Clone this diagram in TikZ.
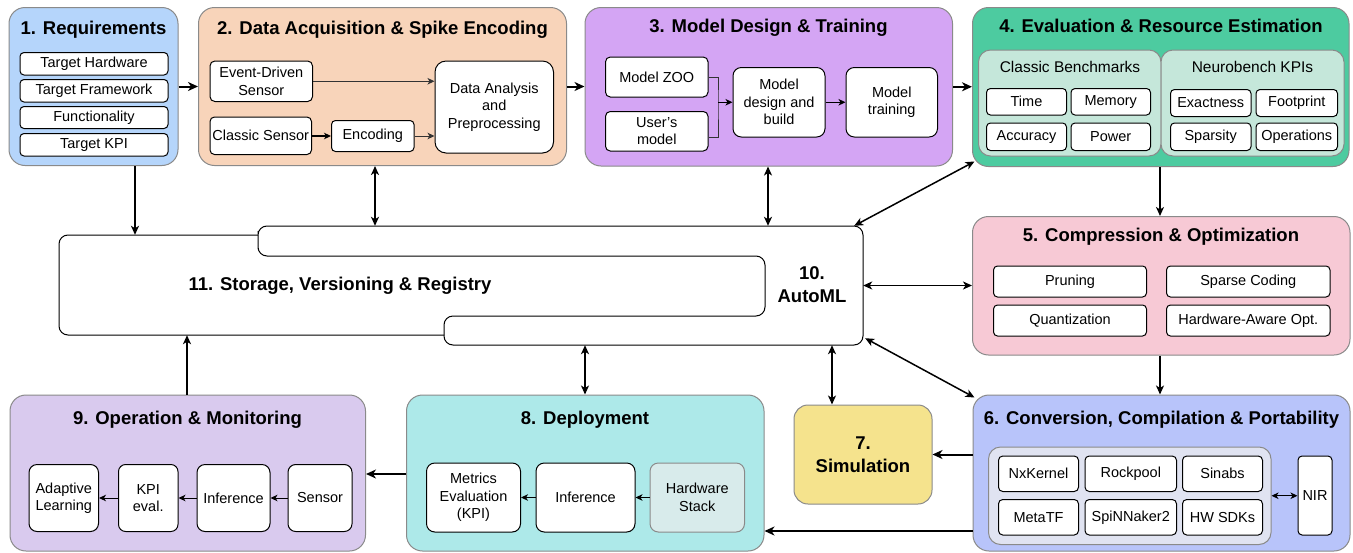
\documentclass[tikz,border=0pt]{standalone}
\usepackage{fontspec}
\setmainfont{Liberation Sans}
\usetikzlibrary{arrows.meta}

\definecolor{reqblue}{HTML}{B5D5FB}
\definecolor{daqpeach}{HTML}{F8D4BA}
\definecolor{mdlviolet}{HTML}{D4A5F4}
\definecolor{evalgreen}{HTML}{4DCBA0}
\definecolor{evalpale}{HTML}{C5E7DA}
\definecolor{cmppink}{HTML}{F7C9D5}
\definecolor{cnvblue}{HTML}{B8C4FA}
\definecolor{cnvgray}{HTML}{E0E3F1}
\definecolor{simyellow}{HTML}{F5E38D}
\definecolor{depteal}{HTML}{ADE9E9}
\definecolor{hwgray}{HTML}{D8EBEB}
\definecolor{opslilac}{HTML}{D9CAEE}
\definecolor{edgegray}{HTML}{8A8A8A}

\newcommand{\ttlfont}{\fontsize{18.5}{23}\selectfont\bfseries}
\newcommand{\itmfont}{\fontsize{14.5}{17.5}\selectfont}

% block from its corners (x1,y1) (x2,y2), in pixels
\newcommand{\blk}[7][]{%
  \pgfmathsetmacro{\blkw}{#5-#3}%
  \pgfmathsetmacro{\blkh}{#6-#4}%
  \pgfmathsetmacro{\blkr}{max(4,0.12*min(\blkw,\blkh))}%
  \node[itm,rounded corners=\blkr pt,minimum width=\blkw pt,minimum height=\blkh pt,#1]
    (#2) at ({(#3+#5)/2},{(#4+#6)/2}) {#7};}

\tikzset{
  itm/.style={draw=black,fill=white,line width=1pt,inner sep=0pt,align=center,font=\itmfont},
  grp/.style={draw=edgegray,line width=1pt,rounded corners=16pt},
  sub/.style={draw=edgegray,line width=1pt,rounded corners=12pt},
  ttl/.style={font=\ttlfont,inner sep=0pt,align=center},
  bttl/.style={ttl,anchor=base},
  lbl/.style={font=\fontsize{15.5}{18}\selectfont,inner sep=0pt},
  bigarr/.style={-{Stealth[length=10pt,width=9pt,inset=3pt]},line width=2pt},
  arr/.style={-{Stealth[length=9pt,width=8pt,inset=2.5pt]},line width=1.5pt},
  darr/.style={{Stealth[length=9pt,width=8pt,inset=2.5pt]}-{Stealth[length=9pt,width=8pt,inset=2.5pt]},line width=1.5pt},
  smarr/.style={-{Stealth[length=7pt,width=6.5pt,inset=2pt]},line width=1pt},
  dsmarr/.style={{Stealth[length=7pt,width=6.5pt,inset=2pt]}-{Stealth[length=7pt,width=6.5pt,inset=2pt]},line width=1.2pt}
}

\begin{document}
\begin{tikzpicture}[x=1pt,y=-1pt]
  \useasboundingbox[fill=white] (0,0) rectangle (1353,552);

  % 1. requirements
  \blk[grp,fill=reqblue]{req}{9}{7.5}{178}{165.5}{}
  \node[bttl] (reqttl) at (93.5,34.5) {1. Requirements};
  \blk{thw}{20}{52.5}{168}{75}{Target Hardware}
  \blk{tfw}{20}{79.5}{168}{102}{Target Framework}
  \blk{fun}{20}{106.5}{168}{128.5}{Functionality}
  \blk{tkpi}{20}{133.5}{168}{156}{Target KPI}

  % 2. data acquisition
  \blk[grp,fill=daqpeach]{daq}{198.5}{7.5}{566.5}{165.5}{}
  \node[bttl] (daqttl) at (382.5,34.5) {2. Data Acquisition \& Spike Encoding};
  \blk{evs}{210}{61}{312.5}{101.5}{Event-Driven\\Sensor}
  \blk{csn}{210}{117}{311.5}{154.5}{Classic Sensor}
  \blk{enc}{331.5}{120.5}{414}{151.5}{Encoding}
  \blk{dap}{435}{61}{553.5}{153}{Data Analysis\\and\\Preprocessing}
  \draw[smarr,black!80] (evs.east) -- (dap.west |- evs.east);
  \draw[smarr,line width=1.5pt] (csn.east |- enc.west) -- (enc.west);
  \draw[smarr,black!80] (enc.east) -- (dap.west |- enc.east);

  % 3. model design
  \blk[grp,fill=mdlviolet]{mdl}{585}{7.5}{952.5}{166}{}
  \node[bttl] (mdlttl) at (768.5,32.5) {3. Model Design \& Training};
  \blk{zoo}{605.5}{57}{708}{97}{Model ZOO}
  \blk{usr}{605.5}{111.5}{708}{151}{User\char"0027 s\\model}
  \blk{mdb}{733}{67.5}{825}{137}{Model\\design and\\build}
  \blk{mtr}{846}{67.5}{937.5}{137}{Model\\training}
  \coordinate (mrg) at (718,102.25);
  \draw[line width=1pt,black!80] (zoo.east) -| (mrg) |- ([yshift=-6.5pt]usr.east);
  \draw[smarr,line width=1.5pt] (mrg) -- (mdb.west |- mrg);
  \draw[smarr,line width=1.5pt] (mdb) -- (mtr);

  % 4. evaluation
  \blk[grp,fill=evalgreen]{eval}{972.5}{7.5}{1349}{166.5}{}
  \node[bttl] (evalttl) at (1161,32.5) {4. Evaluation \& Resource Estimation};
  \blk[sub,fill=evalpale]{cbm}{978.5}{50}{1161}{156}{}
  \blk[sub,fill=evalpale]{nbk}{1161}{50}{1344}{156}{}
  \node[lbl] (cbmlbl) at (1070,67) {Classic Benchmarks};
  \node[lbl] (nbklbl) at (1252.5,67) {Neurobench KPIs};
  \blk{tim}{986.5}{88.5}{1066.5}{115}{Time}
  \blk{mem}{1071}{88.5}{1150.5}{115}{Memory}
  \blk{acc}{986.5}{123}{1066.5}{150.5}{Accuracy}
  \blk{pow}{1071}{123}{1150.5}{150.5}{Power}
  \blk{exa}{1170.5}{89.5}{1251}{116.5}{Exactness}
  \blk{fpr}{1256}{89.5}{1337.5}{116.5}{Footprint}
  \blk{spa}{1170.5}{123}{1251}{150.5}{Sparsity}
  \blk{opr}{1256}{123}{1337.5}{150.5}{Operations}

  % 5. compression
  \blk[grp,fill=cmppink]{cmp}{972.5}{216.5}{1350}{355}{}
  \node[bttl] (cmpttl) at (1161,241.5) {5. Compression \& Optimization};
  \blk{prn}{993.5}{266}{1146.5}{297}{Pruning}
  \blk{spc}{1166.5}{266}{1330}{297}{Sparse Coding}
  \blk{qnt}{993.5}{305}{1146.5}{336}{Quantization}
  \blk{hwo}{1166.5}{305}{1330}{336}{Hardware-Aware Opt.}

  % 6. conversion
  \blk[grp,fill=cnvblue]{cnv}{973}{395}{1350}{551}{}
  \node[bttl] (cnvttl) at (1161.5,424.5) {6. Conversion, Compilation \& Portability};
  \blk[sub,fill=cnvgray]{fwk}{988.5}{447}{1271}{544.5}{}
  \blk{nxk}{998.5}{456}{1078.5}{491.5}{NxKernel}
  \blk{rkp}{1085}{456}{1176.5}{491.5}{Rockpool}
  \blk{snb}{1182.5}{456}{1262.5}{491.5}{Sinabs}
  \blk{mtf}{998.5}{499.5}{1078.5}{535}{MetaTF}
  \blk{spn}{1085}{499.5}{1176.5}{535}{SpiNNaker2}
  \blk{hws}{1182.5}{499.5}{1262.5}{535}{HW SDKs}
  \blk{nir}{1298}{456}{1332}{535}{NIR}
  \draw[dsmarr] (fwk.east) -- (nir.west |- fwk.east);

  % 7. simulation
  \blk[grp,fill=simyellow,font=\ttlfont,rounded corners=14pt]{sim}{794}{405}{932}{504}{7.\\Simulation}

  % 8. deployment
  \blk[grp,fill=depteal]{dep}{406.5}{395}{764}{551}{}
  \node[bttl] (depttl) at (585,424.5) {8. Deployment};
  \blk{met}{426.5}{463}{520.5}{532}{Metrics\\Evaluation\\(KPI)}
  \blk{dinf}{536}{463}{635}{532}{Inference}
  \blk[fill=hwgray,draw=edgegray]{hwst}{650}{463}{744.5}{532}{Hardware\\Stack}
  \draw[smarr] (hwst) -- (dinf);
  \draw[smarr] (dinf) -- (met);

  % 9. operation
  \blk[grp,fill=opslilac]{opm}{10}{395}{365.5}{551}{}
  \node[bttl] (opmttl) at (187.5,424.5) {9. Operation \& Monitoring};
  \blk{adl}{29}{464.5}{98.5}{531.5}{Adaptive\\Learning}
  \blk{kpe}{118.5}{464.5}{178}{531.5}{KPI\\eval.}
  \blk{oinf}{197}{464.5}{270}{531.5}{Inference}
  \blk{sns}{288}{464.5}{352}{531.5}{Sensor}
  \draw[smarr] (sns) -- (oinf);
  \draw[smarr] (oinf) -- (kpe);
  \draw[smarr] (kpe) -- (adl);

  % 10. automl and 11. storage
  \node[minimum width=706pt,minimum height=100pt,inner sep=0pt] (stor) at (412,285) {};
  \node[minimum width=605pt,minimum height=119pt,inner sep=0pt] (aml) at (560.5,285.5) {};
  \draw[line width=1pt,rounded corners=9pt] (258,240) -- (258,226) -- (863,226) -- (863,345)
    -- (444,345) -- (444,316) -- (765,316) -- (765,256) -- (258,256) -- cycle;
  \draw[line width=1pt,rounded corners=9pt] (258,235) -- (59,235) -- (59,335) -- (444,335);
  \node[bttl] (storlbl) at (340,290.5) {11. Storage, Versioning \& Registry};
  \node[ttl] (amllbl) at (812,284.5) {10.\\AutoML};

  % flow between stages
  \draw[bigarr] (req.east) -- (daq.west |- req.east);
  \draw[bigarr] (daq.east) -- (mdl.west |- daq.east);
  \draw[bigarr] (mdl.east) -- (eval.west |- mdl.east);
  \draw[arr] (135,0 |- req.south) -- (135,0 |- stor.north);
  \draw[darr] (375,0 |- daq.south) -- (375,0 |- aml.north);
  \draw[darr] (768,0 |- mdl.south) -- (768,0 |- aml.north);
  \draw[darr] ([xshift=-9pt]aml.north east) -- ([shift={(2.5,-5.5)}]eval.south west);
  \draw[arr] (1160,0 |- eval.south) -- (1160,0 |- cmp.north);
  \draw[darr] (aml.east) -- (cmp.west |- aml.east);
  \draw[arr] (1160,0 |- cmp.south) -- (1160,0 |- cnv.north);
  \draw[darr] ([shift={(2,-7)}]aml.south east) -- ([shift={(2,3)}]cnv.north west);
  \draw[darr] (832,0 |- aml.south) -- (832,0 |- sim.north);
  \draw[darr] (585,0 |- aml.south) -- (585,0 |- dep.north);
  \draw[bigarr] (cnv.west |- sim.east) -- (sim.east);
  \draw[bigarr] (cnv.west |- 0,531) -- (dep.east |- 0,531);
  \draw[bigarr] (dep.west |- 0,474) -- (opm.east |- 0,474);
  \draw[arr] (187,0 |- opm.north) -- (187,0 |- stor.south);
\end{tikzpicture}
\end{document}
